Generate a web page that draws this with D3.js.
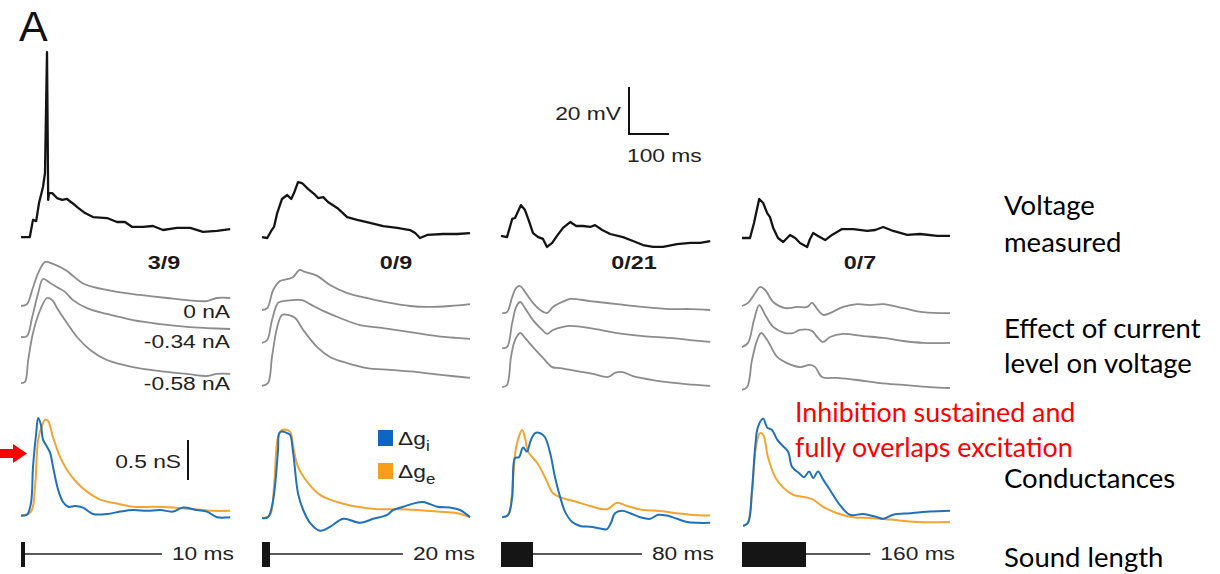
<!DOCTYPE html>
<html>
<head>
<meta charset="utf-8">
<script src="https://cdn.jsdelivr.net/npm/d3@7"></script>
<style>
  body { margin: 0; background: #fff; }
  svg { display: block; }
</style>
</head>
<body>
<script>
// sound durations (ms) and spike counts per column
var durations = [10, 20, 80, 160];
var spikeCounts = ["3/9", "0/9", "0/21", "0/7"];
var currentLabels = ["0 nA", "-0.34 nA", "-0.58 nA"];
var rowLabels = [["Voltage", "measured"], ["Effect of current", "level on voltage"], ["Conductances"], ["Sound length"]];
var note = ["Inhibition sustained and", "fully overlaps excitation"];

// measured voltage, [ms, mV above rest]
var vm10 = [[0,0.4],[22,0.4],[30,7.7],[38,7.2],[45,14.9],[55,21.7],[60,27.7],[65,79.1],[68,16.2],[70,19.1],[78,19.1],[90,17.0],[103,16.2],[115,16.6],[128,14.9],[143,12.8],[160,10.6],[180,8.9],[215,8.5],[240,6.8],[260,6.8],[278,4.7],[305,4.7],[330,5.1],[355,3.4],[390,4.3],[423,4.3],[455,2.6],[490,3.0],[523,3.8]];
var vm20 = [[0,0.4],[13,0],[23,3.0],[30,4.7],[38,10.6],[50,16.6],[63,18.3],[73,16.6],[80,19.1],[90,23.8],[100,23.4],[115,20.9],[133,18.3],[140,17.0],[153,17.4],[165,15.3],[188,12.8],[213,8.9],[238,7.7],[270,6.4],[303,5.1],[338,4.3],[370,3.4],[383,2.1],[395,0],[413,1.3],[453,1.7],[488,1.7],[520,2.1]];
var vm80 = [[0,0.9],[15,0.4],[28,8.1],[35,8.5],[50,14.0],[60,11.9],[70,7.2],[80,2.1],[93,0.4],[105,-0.4],[115,-3.8],[128,-2.1],[140,0.9],[155,4.3],[173,6.8],[188,5.1],[205,5.1],[223,4.7],[235,5.5],[253,3.4],[273,1.7],[305,0.4],[330,-1.3],[355,-3.0],[380,-3.8],[405,-3.8],[440,-2.6],[473,-2.1],[498,-2.1],[523,-1.3]];
var vm160 = [[0,0],[20,0],[30,6.4],[43,16.6],[53,14.9],[63,10.6],[70,8.9],[78,4.3],[90,0],[103,-1.7],[120,1.3],[133,0],[145,-2.1],[163,-3.8],[170,-0.4],[178,2.1],[190,0.9],[208,-0.9],[225,1.3],[250,3.8],[278,3.8],[313,3.0],[333,3.4],[353,4.7],[378,3.0],[413,1.3],[445,1.7],[488,0.9],[520,0.9]];

// voltage at three holding currents (0, -0.34, -0.58 nA), stacked, mV
var cur10 = [
  [[0,36.6],[15,37.4],[28,43.4],[43,50.6],[60,55.3],[80,54.5],[115,51.5],[130,49.4],[153,46.4],[180,44.7],[240,42.6],[298,41.3],[365,40.0],[415,39.1],[465,38.7],[490,40.0],[523,40.0]],
  [[0,23.4],[15,23.8],[28,31.9],[43,42.1],[55,48.1],[73,46.4],[93,44.3],[110,42.6],[130,39.1],[165,35.7],[215,33.2],[280,30.6],[348,28.9],[415,27.7],[465,27.2],[523,26.8]],
  [[0,3.8],[10,4.3],[18,13.6],[30,25.1],[48,34.9],[65,40.0],[78,39.1],[93,34.9],[115,29.4],[140,23.4],[173,17.9],[215,13.6],[280,10.6],[348,8.9],[415,7.7],[465,6.8],[490,7.7],[523,7.7]]
];
var cur20 = [
  [[0,34.9],[13,35.7],[28,43.4],[45,47.2],[65,48.1],[78,48.9],[93,51.9],[108,51.1],[138,49.4],[170,45.5],[213,42.1],[263,40.0],[320,37.9],[370,36.6],[413,36.2],[470,36.6],[520,37.4]],
  [[0,20.9],[13,22.1],[25,30.6],[40,37.9],[53,38.7],[78,39.1],[100,39.1],[120,37.4],[153,34.5],[195,31.5],[245,28.5],[303,27.2],[370,25.5],[438,23.8],[488,23.0],[520,22.6]],
  [[0,2.6],[15,3.8],[25,14.9],[38,27.7],[50,32.8],[65,32.8],[83,31.5],[103,26.4],[138,19.1],[170,14.9],[213,12.3],[263,10.2],[320,9.4],[388,8.5],[453,7.2],[520,6.0]]
];
var cur80 = [
  [[3,33.6],[15,34.0],[28,40.4],[38,44.3],[48,45.1],[60,42.6],[80,37.9],[98,34.9],[115,33.6],[130,36.2],[153,38.3],[173,39.6],[223,38.7],[290,37.4],[355,36.2],[423,35.3],[473,35.3],[523,34.9]],
  [[3,18.7],[15,19.1],[28,29.4],[38,36.2],[48,38.3],[60,35.7],[80,30.6],[103,26.4],[115,24.7],[130,26.4],[155,27.7],[173,28.1],[223,27.2],[290,25.1],[355,23.8],[423,23.0],[473,22.1],[523,21.3]],
  [[3,2.1],[15,3.0],[25,14.9],[35,22.1],[48,25.1],[60,23.0],[80,19.1],[105,14.5],[128,10.6],[148,10.2],[190,8.9],[230,7.7],[268,6.4],[285,8.1],[303,8.5],[330,6.8],[380,5.1],[440,3.8],[490,3.0],[523,2.6]]
];
var cur160 = [
  [[0,36.6],[15,37.9],[33,42.1],[45,44.7],[58,43.4],[78,38.3],[108,35.7],[138,36.2],[163,36.2],[175,37.9],[188,35.3],[203,32.8],[220,33.6],[253,36.2],[288,37.4],[320,37.0],[353,37.4],[403,35.7],[453,34.0],[520,33.6]],
  [[0,19.1],[15,20.9],[30,30.6],[43,37.0],[58,32.8],[78,27.7],[108,25.1],[128,25.1],[145,26.4],[175,26.0],[188,23.4],[203,21.3],[220,23.4],[253,24.7],[303,23.8],[353,23.0],[403,21.7],[453,20.9],[520,20.9]],
  [[0,0.9],[13,2.1],[25,13.6],[38,22.1],[48,25.1],[63,22.1],[88,14.9],[113,12.3],[145,10.6],[170,11.5],[183,10.6],[200,6.4],[238,6.0],[288,5.1],[345,3.8],[403,3.0],[470,2.1],[520,1.7]]
];

// conductance changes, nS: inhibitory (dgi) and excitatory (dge)
var gi10 = [[0,0.13],[15,0.14],[25,0.29],[30,0.74],[38,1.16],[43,1.35],[50,1.26],[55,1.08],[65,0.99],[73,0.91],[80,0.74],[93,0.45],[105,0.30],[118,0.24],[135,0.25],[155,0.23],[180,0.15],[215,0.15],[248,0.18],[280,0.20],[315,0.19],[348,0.20],[380,0.18],[405,0.23],[440,0.20],[465,0.18],[490,0.11],[523,0.11]];
var ge10 = [[0,0.13],[25,0.18],[35,0.49],[43,1.08],[53,1.26],[60,1.33],[68,1.31],[80,1.11],[98,0.86],[115,0.70],[140,0.54],[165,0.43],[198,0.33],[240,0.28],[280,0.24],[330,0.24],[380,0.23],[430,0.21],[480,0.19],[523,0.19]];
var gi20 = [[0,0.10],[15,0.11],[28,0.33],[40,0.95],[43,1.16],[50,1.18],[63,1.16],[70,1.14],[78,0.91],[90,0.41],[103,0.20],[120,0.04],[145,-0.06],[170,-0.01],[203,0.09],[245,0.04],[278,0.09],[313,0.14],[328,0.20],[353,0.24],[378,0.28],[403,0.30],[438,0.24],[470,0.23],[495,0.20],[520,0.11]];
var ge20 = [[0,0.10],[20,0.14],[30,0.49],[40,1.11],[50,1.20],[70,1.18],[78,0.99],[90,0.74],[115,0.54],[145,0.39],[188,0.30],[238,0.24],[288,0.21],[338,0.21],[388,0.20],[438,0.18],[488,0.16],[520,0.11]];
var gi80 = [[3,0.11],[18,0.14],[28,0.36],[35,0.85],[45,0.86],[55,0.98],[65,0.93],[73,1.05],[85,1.16],[98,1.16],[110,1.11],[123,0.91],[135,0.61],[148,0.36],[160,0.18],[178,0.05],[198,0],[223,-0.01],[248,-0.03],[265,-0.04],[275,0.04],[285,0.16],[303,0.19],[323,0.16],[348,0.11],[373,0.09],[393,0.14],[415,0.13],[440,0.09],[465,0.05],[490,0.04],[523,0.04]];
var ge80 = [[3,0.11],[18,0.14],[30,0.58],[38,0.99],[53,1.20],[60,1.10],[68,0.93],[90,0.79],[110,0.61],[130,0.41],[153,0.35],[190,0.30],[223,0.25],[265,0.21],[290,0.29],[315,0.25],[355,0.20],[390,0.19],[440,0.16],[473,0.14],[523,0.13]];
var gi160 = [[3,0],[15,0.04],[25,0.45],[33,0.99],[40,1.24],[53,1.34],[63,1.23],[75,1.20],[88,1.08],[100,1.01],[115,0.93],[125,0.74],[143,0.66],[155,0.61],[168,0.68],[178,0.60],[190,0.68],[203,0.58],[220,0.45],[245,0.26],[270,0.14],[303,0.15],[338,0.11],[353,0.09],[378,0.14],[420,0.16],[470,0.18],[520,0.19]];
var ge160 = [[3,0],[15,0.04],[25,0.41],[35,0.99],[45,1.16],[53,1.14],[65,0.86],[83,0.61],[103,0.48],[128,0.39],[158,0.36],[178,0.33],[203,0.24],[238,0.16],[278,0.11],[320,0.10],[370,0.08],[438,0.05],[520,0.05]];

var W = 1220, H = 574;
var svg = d3.select("body").append("svg").attr("width", W).attr("height", H);

var panelX = [21, 262, 501, 742];
var x = d3.scaleLinear().domain([0, 525]).range([0, 210]);
var yV = d3.scaleLinear().domain([0, 20]).range([238, 191]);
var yC = d3.scaleLinear().domain([0, 20]).range([392, 345]);
var yG = d3.scaleLinear().domain([0, 0.5]).range([526, 486]);

var figFont = "'Liberation Sans', Arial, sans-serif";
var labFont = "Lato, 'Open Sans', sans-serif";
var stretch = 1.2; // the figure text is a bit wide

function figText(g, x0, y0, str, opts) {
  opts = opts || {};
  return g.append("text")
    .attr("transform", "translate(" + x0 + "," + y0 + ") scale(" + (opts.sx || stretch) + ",1)")
    .attr("text-anchor", opts.anchor || "start")
    .attr("font-family", figFont)
    .attr("font-size", opts.size || 19)
    .attr("font-weight", opts.weight || "normal")
    .attr("fill", opts.fill || "#222")
    .text(str);
}

var vms = [vm10, vm20, vm80, vm160];
var curs = [cur10, cur20, cur80, cur160];
var gis = [gi10, gi20, gi80, gi160];
var ges = [ge10, ge20, ge80, ge160];

var blue = "#1f71be", orange = "#f4a431";

panelX.forEach(function (px, i) {
  var g = svg.append("g");
  var lineOf = function (ys) {
    return d3.line().x(d => px + x(d[0])).y(d => ys(d[1]));
  };

  // gray traces first
  curs[i].forEach(function (tr) {
    g.append("path").attr("d", lineOf(yC).curve(d3.curveCatmullRom)(tr))
      .attr("fill", "none").attr("stroke", "#8c8c8c").attr("stroke-width", 1.8);
  });

  g.append("path").attr("d", lineOf(yV)(vms[i]))
    .attr("fill", "none").attr("stroke", "#141414").attr("stroke-width", 2.3)
    .attr("stroke-linejoin", "round");

  g.append("path").attr("d", lineOf(yG).curve(d3.curveCatmullRom)(ges[i]))
    .attr("fill", "none").attr("stroke", orange).attr("stroke-width", 2);
  g.append("path").attr("d", lineOf(yG).curve(d3.curveCatmullRom)(gis[i]))
    .attr("fill", "none").attr("stroke", blue).attr("stroke-width", 2);

  // spike counts
  figText(g, [164, 396, 634, 860][i], 269, spikeCounts[i], { anchor: "middle", size: 18, weight: "bold", sx: 1.3, fill: "#1a1a1a" });

  // sound stimulus bar
  var lab = figText(g, px + 213, 560, durations[i] + " ms", { anchor: "end" });
  var textStart = px + 213 - lab.node().getComputedTextLength() * stretch;
  g.append("line").attr("x1", px + x(0)).attr("x2", textStart - 10)
    .attr("y1", 554).attr("y2", 554).attr("stroke", "#222").attr("stroke-width", 1.6);
  g.append("rect").attr("x", px + x(0)).attr("y", 542)
    .attr("width", Math.max(x(durations[i]), 4)).attr("height", 25)
    .attr("fill", "#151515");
});

// current labels, first column
[318, 348, 390].forEach(function (yy, k) {
  figText(svg, 230, yy, currentLabels[k], { anchor: "end" });
});

// voltage scale bar
var sbX = 629;
svg.append("path")
  .attr("d", "M" + sbX + "," + yV(20) + "V" + yV(0) + "H" + (sbX + x(100)))
  .attr("transform", "translate(0," + (134 - yV(0)) + ")")
  .attr("fill", "none").attr("stroke", "#111").attr("stroke-width", 2);
figText(svg, 621, 120, "20 mV", { anchor: "end" });
figText(svg, 627, 162, "100 ms");

// conductance scale bar
svg.append("line").attr("x1", 188).attr("x2", 188)
  .attr("y1", yG(0.5) - 46).attr("y2", yG(0) - 46)
  .attr("stroke", "#111").attr("stroke-width", 2);
figText(svg, 181, 468, "0.5 nS", { anchor: "end" });

// legend
var leg = svg.append("g");
[["i", blue, 430, 445], ["e", orange, 463, 478]].forEach(function (d) {
  leg.append("rect").attr("x", 378).attr("y", d[2]).attr("width", 15).attr("height", 16)
    .attr("fill", d[0] == "i" ? "#0e66c2" : "#f99e1a");
  var t = figText(leg, 398, d[3], "Δg");
  t.append("tspan").attr("font-size", 14).attr("dy", 6).text(d[0]);
});

// red arrow
svg.append("path")
  .attr("d", "M0,449H13V444L27,453.5L13,463V458H0Z")
  .attr("fill", "#ff0000");

// panel letter
svg.append("text").attr("x", 19).attr("y", 41)
  .attr("font-family", figFont).attr("font-size", 43).attr("fill", "#111")
  .text("A");

// row labels on the right
var rowY = [[215, 252], [338, 373], [488], [567]];
rowLabels.forEach(function (lines, r) {
  lines.forEach(function (s, k) {
    svg.append("text").attr("x", 1004).attr("y", rowY[r][k])
      .attr("font-family", labFont).attr("font-size", 27.5).attr("fill", "#000")
      .text(s);
  });
});

note.forEach(function (s, k) {
  svg.append("text").attr("x", 795).attr("y", [422, 457][k])
    .attr("font-family", labFont).attr("font-size", 26.8).attr("fill", "#ff0000")
    .text(s);
});
</script>
</body>
</html>
